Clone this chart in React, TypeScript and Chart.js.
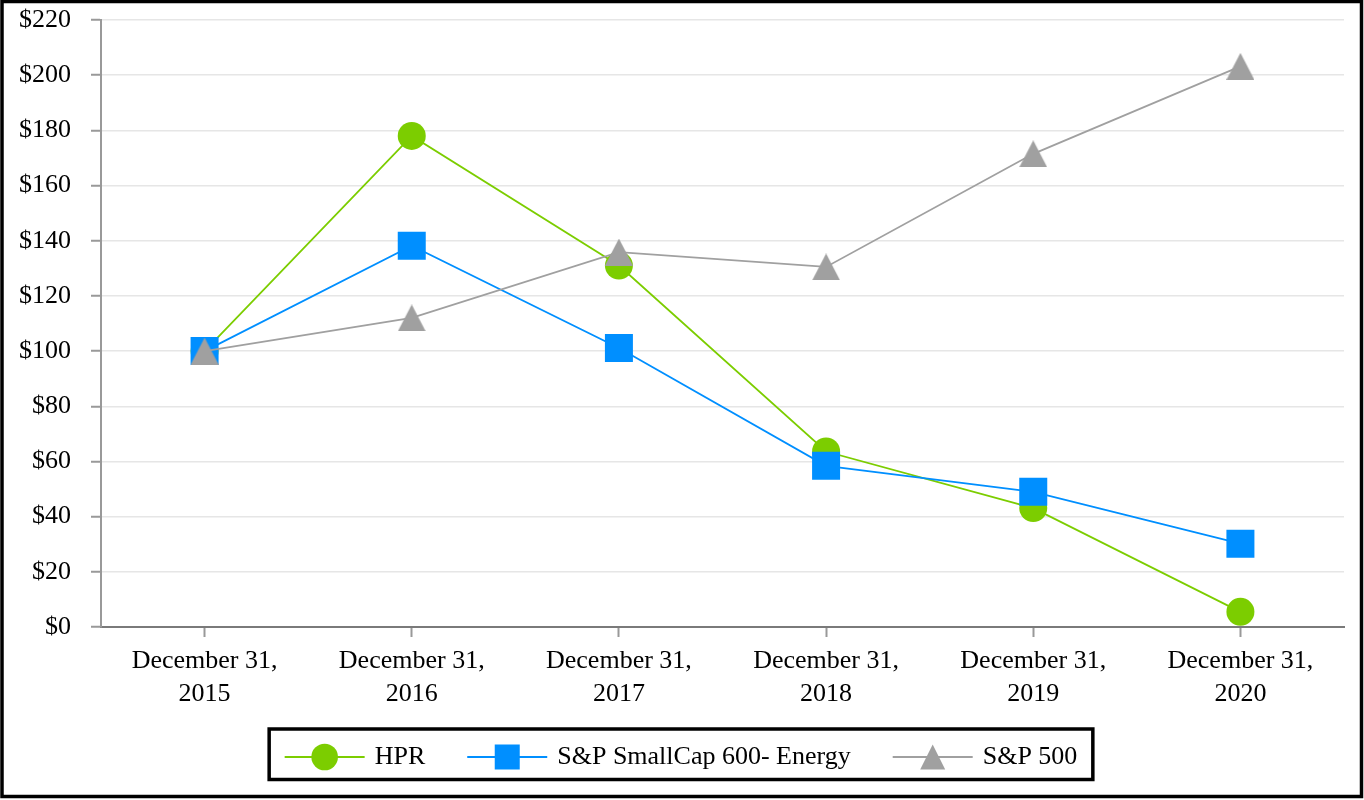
import React, { useEffect, useRef } from 'react';
import { Chart, registerables } from 'chart.js';

Chart.register(...registerables);

const categories: string[][] = [
  ['December 31,', '2015'],
  ['December 31,', '2016'],
  ['December 31,', '2017'],
  ['December 31,', '2018'],
  ['December 31,', '2019'],
  ['December 31,', '2020'],
];

const hprValues = [100, 178, 131, 63.6, 43.1, 5.5];
const smallCapValues = [100, 138.2, 101.1, 58.4, 49, 30.2];
const sp500Values = [100, 112, 135.9, 130.5, 171.5, 203.2];

const seriesNames = ['HPR', 'S&P SmallCap 600- Energy', 'S&P 500'];
const seriesColors = ['#7CCD00', '#008FFF', '#A0A0A0'];

const yMin = 0;
const yMax = 220;
const yStep = 20;

const FONT = '"Liberation Serif", "Times New Roman", serif';
const FONT_SIZE = 26;

function makeTriangle(w: number, h: number, color: string) {
  const c = document.createElement('canvas');
  c.width = w;
  c.height = h;
  const g = c.getContext('2d')!;
  g.fillStyle = color;
  g.beginPath();
  g.moveTo(w / 2, 0);
  g.lineTo(w, h);
  g.lineTo(0, h);
  g.closePath();
  g.fill();
  return c;
}

export default function App() {
  const ref = useRef<HTMLCanvasElement | null>(null);

  useEffect(() => {
    if (!ref.current) return;
    const tri = makeTriangle(28, 27, seriesColors[2]);

    const frameLegend = {
      id: 'frameLegend',
      afterDraw(chart: any) {
        const ctx = chart.ctx as CanvasRenderingContext2D;
        ctx.save();
        // outer frame
        ctx.strokeStyle = '#000';
        ctx.lineWidth = 3.5;
        ctx.strokeRect(2, 1.5, 1359.5, 795);

        // legend
        ctx.font = `${FONT_SIZE}px ${FONT}`;
        const lineLen = 80;
        const gapText = 10;
        const gapItem = 42;
        const pad = 15.5;
        const widths = seriesNames.map((n) => ctx.measureText(n).width);
        const total =
          widths.reduce((a, w) => a + lineLen + gapText + w, 0) + gapItem * (seriesNames.length - 1);
        const cx = 681;
        let x = cx - total / 2;
        const cy = 757;
        ctx.lineWidth = 3.5;
        ctx.strokeStyle = '#000';
        ctx.strokeRect(x - pad, 729, total + 2 * pad, 50.5);

        seriesNames.forEach((name, i) => {
          const col = seriesColors[i];
          ctx.strokeStyle = col;
          ctx.lineWidth = 2;
          ctx.beginPath();
          ctx.moveTo(x, cy);
          ctx.lineTo(x + lineLen, cy);
          ctx.stroke();
          const mx = x + lineLen / 2;
          ctx.fillStyle = col;
          if (i === 0) {
            ctx.beginPath();
            ctx.arc(mx, cy, 13.3, 0, Math.PI * 2);
            ctx.fill();
          } else if (i === 1) {
            ctx.fillRect(mx - 12.5, cy - 12.5, 25, 25);
          } else {
            ctx.beginPath();
            ctx.moveTo(mx, cy - 12.5);
            ctx.lineTo(mx + 12.5, cy + 12.5);
            ctx.lineTo(mx - 12.5, cy + 12.5);
            ctx.closePath();
            ctx.fill();
          }
          ctx.fillStyle = '#000';
          ctx.textAlign = 'left';
          ctx.textBaseline = 'middle';
          ctx.fillText(name, x + lineLen + gapText, cy);
          x += lineLen + gapText + widths[i] + gapItem;
        });
        ctx.restore();
      },
    };

    const chart = new Chart(ref.current, {
      type: 'line',
      data: {
        labels: categories,
        datasets: [
          {
            label: seriesNames[0],
            data: hprValues,
            borderColor: seriesColors[0],
            backgroundColor: seriesColors[0],
            borderWidth: 1.8,
            pointStyle: 'circle',
            pointRadius: 14,
            pointBorderWidth: 0,
            pointBackgroundColor: seriesColors[0],
            tension: 0,
            order: 3,
          },
          {
            label: seriesNames[1],
            data: smallCapValues,
            borderColor: seriesColors[1],
            backgroundColor: seriesColors[1],
            borderWidth: 1.8,
            pointStyle: 'rect',
            pointRadius: 19.8,
            pointBorderWidth: 0,
            pointBackgroundColor: seriesColors[1],
            tension: 0,
            order: 2,
          },
          {
            label: seriesNames[2],
            data: sp500Values,
            borderColor: seriesColors[2],
            backgroundColor: seriesColors[2],
            borderWidth: 1.8,
            pointStyle: tri as any,
            pointRadius: 14,
            pointBorderWidth: 0,
            tension: 0,
            order: 1,
          },
        ],
      },
      options: {
        responsive: false,
        animation: false,
        layout: { padding: { left: 0, top: 20, right: 20, bottom: 92 } },
        plugins: {
          legend: { display: false },
          tooltip: { enabled: false },
        },
        scales: {
          x: {
            offset: true,
            afterFit: (s: any) => {
              s.height = 81;
              s.paddingTop = 0;
              s.paddingBottom = 0;
            },
            grid: {
              offset: false,
              drawOnChartArea: false,
              drawTicks: true,
              tickLength: 10,
              tickColor: '#999',
              tickWidth: 2,
            },
            border: { display: true, color: '#7a7a7a', width: 2 },
            ticks: {
              color: '#000',
              font: { family: FONT, size: FONT_SIZE, lineHeight: 1.25 },
              padding: 8,
              maxRotation: 0,
              autoSkip: false,
            },
          },
          y: {
            min: yMin,
            max: yMax,
            afterFit: (s: any) => {
              s.width = 101;
              s.paddingTop = 0;
              s.paddingBottom = 0;
            },
            grid: {
              color: '#e6e6e6',
              lineWidth: 1.5,
              drawTicks: true,
              tickLength: 10,
              tickColor: '#999',
              tickWidth: 2,
            },
            border: { display: true, color: '#999', width: 2 },
            ticks: {
              stepSize: yStep,
              color: '#000',
              padding: 20,
              font: { family: FONT, size: FONT_SIZE },
              callback: (v: any) => '$' + v,
            },
          },
        },
      },
      plugins: [frameLegend],
    });

    return () => chart.destroy();
  }, []);

  return (
    <div style={{ position: 'fixed', left: 0, top: 0, width: 1364, height: 800, background: '#fff' }}>
      <canvas ref={ref} width={1364} height={800} style={{ display: 'block' }} />
    </div>
  );
}
